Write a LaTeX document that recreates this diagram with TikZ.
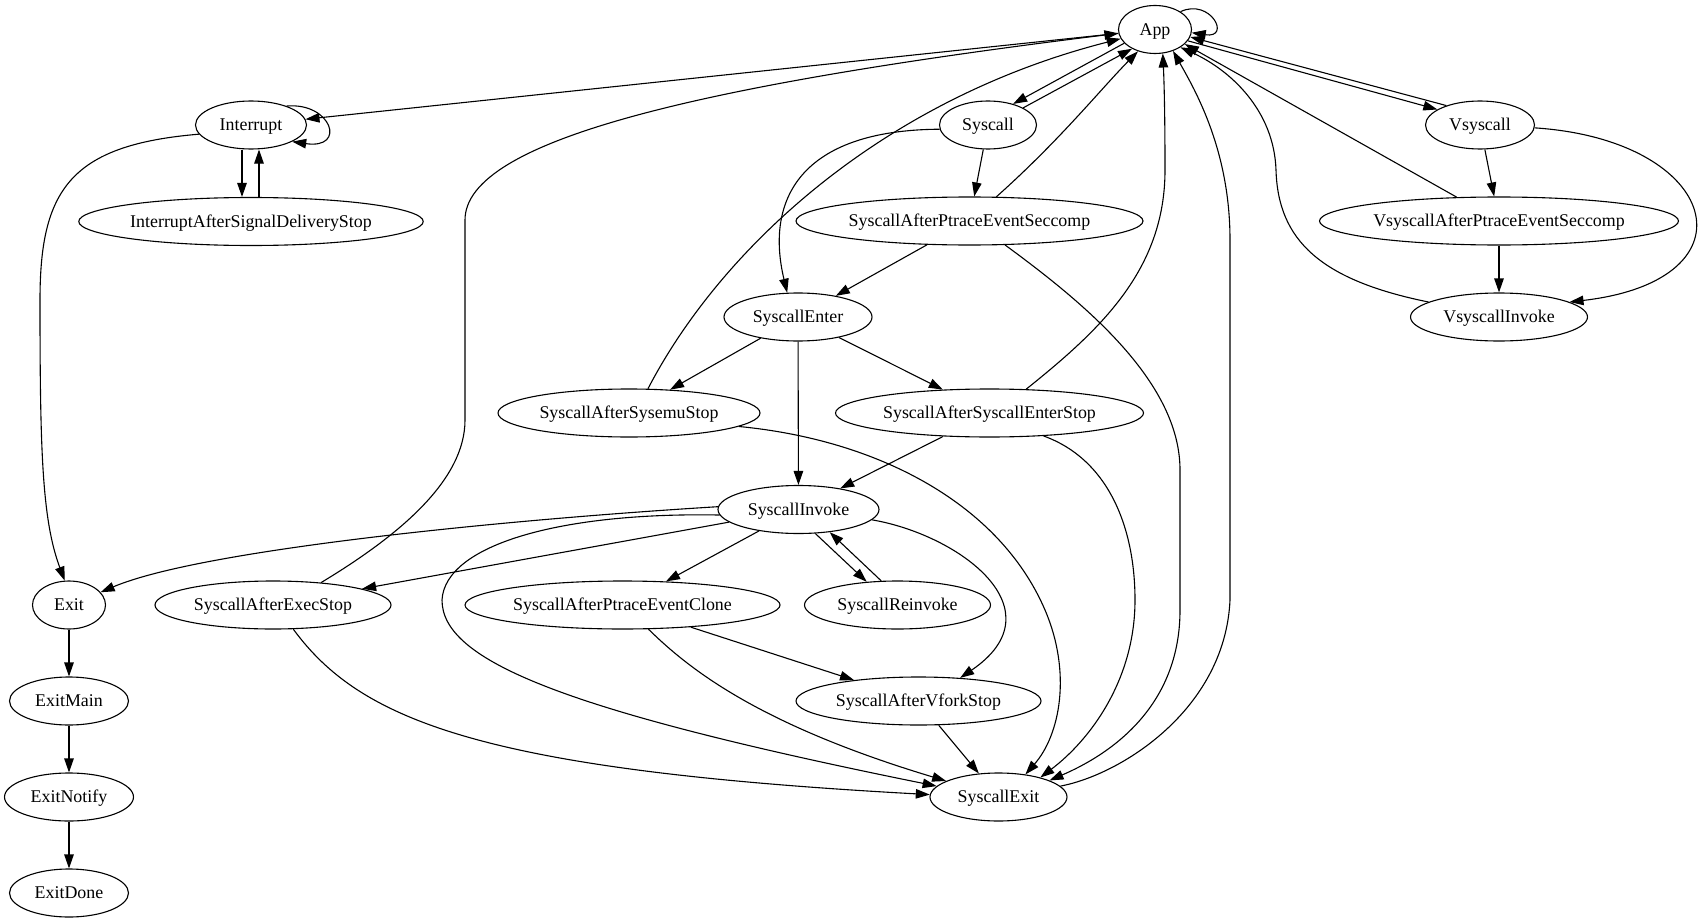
\documentclass[tikz,border=0pt]{standalone}
\usepackage{fontspec}
\setmainfont{Liberation Serif}
\usetikzlibrary{shapes.geometric, arrows.meta}
\tikzstyle{phase} = [ellipse, draw=black, line width=1.1pt, inner sep=1pt, minimum height=48pt, text height=12pt, text depth=0.6pt, font=\fontsize{17.9}{20}\selectfont]
\tikzstyle{arrow} = [line width=1.1pt, ->, >={Triangle[length=14pt, width=9.5pt]}]

\begin{document}
\begin{tikzpicture}[x=1pt, y=-1pt]
\useasboundingbox (0,0) rectangle (1705,923);

\node (app) [phase, minimum width=73pt] at (1155,29.5) {App};
\node (interrupt) [phase, minimum width=111pt] at (251,125) {Interrupt};
\node (iasds) [phase, minimum width=344pt] at (251,221.5) {InterruptAfterSignalDeliveryStop};
\node (syscall) [phase, minimum width=97pt] at (988,125) {Syscall};
\node (sapes) [phase, minimum width=347pt] at (969.5,221) {SyscallAfterPtraceEventSeccomp};
\node (vsyscall) [phase, minimum width=109pt] at (1480,125) {Vsyscall};
\node (vapes) [phase, minimum width=359pt] at (1499,221) {VsyscallAfterPtraceEventSeccomp};
\node (vinvoke) [phase, minimum width=177pt] at (1499,317) {VsyscallInvoke};
\node (senter) [phase, minimum width=148pt] at (798,317) {SyscallEnter};
\node (sasemu) [phase, minimum width=262pt] at (629,413) {SyscallAfterSysemuStop};
\node (sases) [phase, minimum width=308pt] at (989.5,413) {SyscallAfterSyscallEnterStop};
\node (sinvoke) [phase, minimum width=161pt] at (798.5,509.5) {SyscallInvoke};
\node (exit) [phase, minimum width=73pt] at (69,605) {Exit};
\node (saexec) [phase, minimum width=236pt] at (273,605) {SyscallAfterExecStop};
\node (saclone) [phase, minimum width=315pt] at (622.5,605) {SyscallAfterPtraceEventClone};
\node (sreinvoke) [phase, minimum width=186pt] at (897.5,605) {SyscallReinvoke};
\node (savfork) [phase, minimum width=245pt] at (918.5,701) {SyscallAfterVforkStop};
\node (sexit) [phase, minimum width=137pt] at (998.5,797) {SyscallExit};
\node (exitmain) [phase, minimum width=119pt] at (69,701) {ExitMain};
\node (exitnotify) [phase, minimum width=129pt] at (69,797) {ExitNotify};
\node (exitdone) [phase, minimum width=119pt] at (69,893) {ExitDone};

\draw [arrow] (app.35) .. controls +(30,-14) and +(40,6) .. (app.-5);
\draw [arrow] (app) -- (interrupt);
\draw [arrow] (interrupt.28) .. controls +(45,-4) and +(55,8) .. (interrupt.-22);
\draw [arrow] ([xshift=-9pt]interrupt.south) -- ([xshift=-9pt]iasds.north);
\draw [arrow] ([xshift=8pt]iasds.north) -- ([xshift=8pt]interrupt.south);
\draw [arrow] (interrupt.190) .. controls (70,145) and (40,190) .. (40,300) .. controls (40,450) and (42,520) .. (exit.100);
\draw [arrow] (app.204) -- (syscall.40);
\draw [arrow] (syscall.26) -- (app.220);
\draw [arrow] (app.-19) -- (vsyscall.160);
\draw [arrow] (vsyscall.150) -- (app.-12);
\draw [arrow] (syscall) -- (sapes);
\draw [arrow] (syscall.185) .. controls (800,130) and (765,200) .. (senter.114);
\draw [arrow] (sapes.42) .. controls (1060,140) and (1100,90) .. (app.232);
\draw [arrow] (sapes) -- (senter);
\draw [arrow] (sapes.-34) .. controls (1080,300) and (1180,380) .. (1180,470) -- (1180,610) .. controls (1180,700) and (1120,750) .. (sexit.18);
\draw [arrow] (vsyscall) -- (vapes);
\draw [arrow] (vsyscall.-3) .. controls (1720,140) and (1760,280) .. (vinvoke.12);
\draw [arrow] (vapes) -- (app.-26);
\draw [arrow] (vapes) -- (vinvoke);
\draw [arrow] (vinvoke.168) .. controls (1320,280) and (1278,240) .. (1276,170) .. controls (1274,110) and (1230,70) .. (app.-35);
\draw [arrow] (senter) -- (sasemu);
\draw [arrow] (senter) -- (sases);
\draw [arrow] (senter) -- (sinvoke);
\draw [arrow] (sasemu.52) .. controls (720,250) and (880,100) .. (app.195);
\draw [arrow] (sasemu.-7) .. controls (880,440) and (1000,505) .. (1045,610) .. controls (1072,673) and (1060,735) .. (sexit.40);
\draw [arrow] (sases.33) .. controls (1100,330) and (1165,270) .. (1165,170) .. controls (1165,110) and (1164,80) .. (app.288);
\draw [arrow] (sases) -- (sinvoke);
\draw [arrow] (sases.-23) .. controls (1110,460) and (1135,530) .. (1135,600) .. controls (1135,680) and (1090,740) .. (sexit.25);
\draw [arrow] (sinvoke.178) .. controls (500,520) and (200,550) .. (exit.22);
\draw [arrow] (sinvoke) -- (saexec);
\draw [arrow] (sinvoke) -- (saclone);
\draw [arrow] (sinvoke.-55) -- (sreinvoke.143);
\draw [arrow] (sreinvoke.124) -- (sinvoke.-36);
\draw [arrow] (sinvoke.-8) .. controls (960,535) and (1060,610) .. (savfork.29);
\draw [arrow] (sinvoke.184) .. controls (560,512) and (445,545) .. (442,600) .. controls (442,660) and (560,710) .. (sexit.170);
\draw [arrow] (saexec.25) .. controls (400,535) and (465,480) .. (465,420) -- (465,220) .. controls (465,140) and (700,85) .. (app.186);
\draw [arrow] (saexec.-50) .. controls (360,720) and (480,770) .. (sexit.178);
\draw [arrow] (saclone) -- (savfork);
\draw [arrow] (saclone.-43) .. controls (690,670) and (760,725) .. (sexit.163);
\draw [arrow] (savfork) -- (sexit);
\draw [arrow] (sexit.10) .. controls (1120,775) and (1225,710) .. (1230,600) -- (1230,240) .. controls (1230,150) and (1195,90) .. (app.310);
\draw [arrow] (exit) -- (exitmain);
\draw [arrow] (exitmain) -- (exitnotify);
\draw [arrow] (exitnotify) -- (exitdone);

\end{tikzpicture}
\end{document}
